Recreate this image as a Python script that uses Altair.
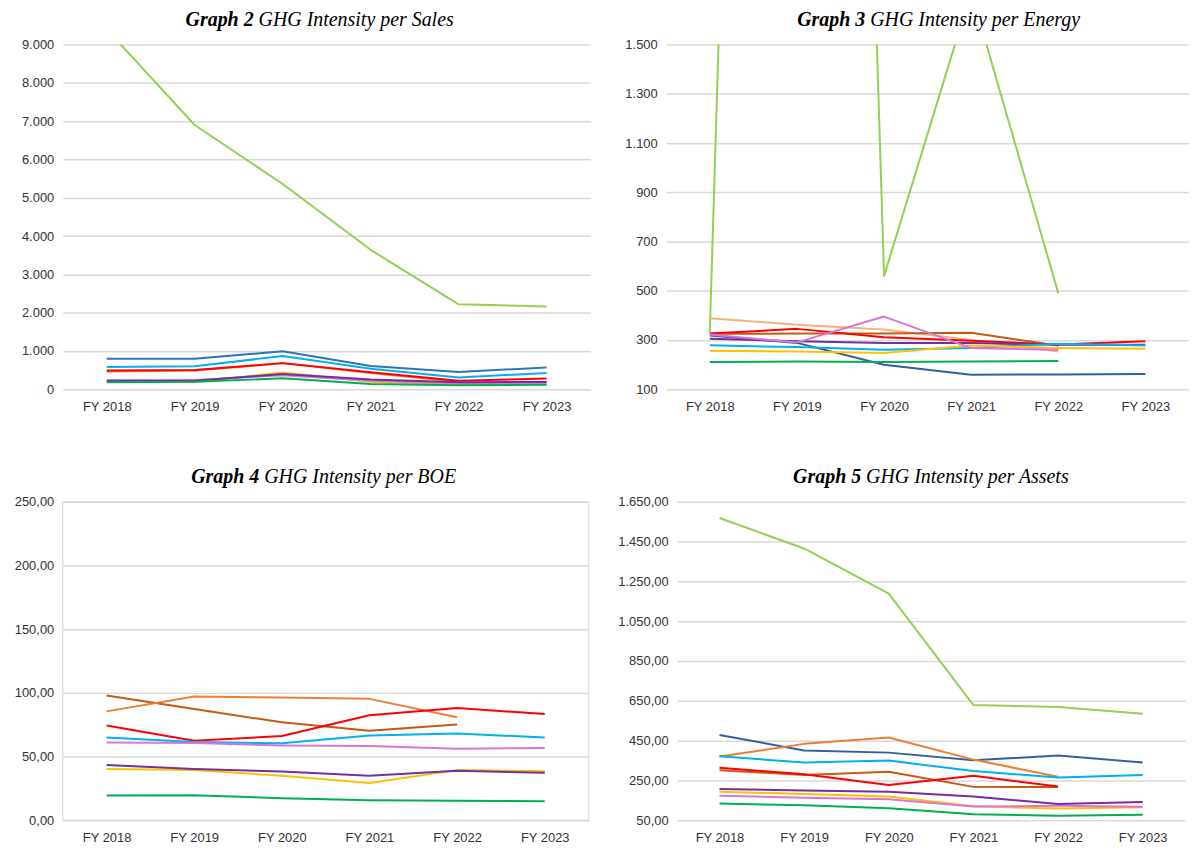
import altair as alt
import pandas as pd

years = ["FY 2018", "FY 2019", "FY 2020", "FY 2021", "FY 2022", "FY 2023"]

# Graph 2 - GHG Intensity per Sales
sales = {
    "light_green": [9400, 6900, 5360, 3640, 2215, 2160],
    "bright_blue": [795, 795, 990, 605, 450, 565],
    "cyan": [580, 600, 865, 535, 305, 425],
    "orange": [460, 485, 680, 425, 195, None],
    "red": [490, 500, 680, 440, 220, 280],
    "yellow": [195, 188, 435, 195, 128, 140],
    "pink": [238, 238, 365, 220, 155, 162],
    "purple": [215, 222, 395, 255, 180, 188],
    "green": [178, 195, 282, 135, 103, 112],
}

# Graph 3 - GHG Intensity per Energy
energy = {
    "light_green": [330, 12000, 560, 1715, 490, None],
    "salmon": [388, 362, 342, 300, 253, None],
    "brown": [325, 326, 326, 329, 277, None],
    "red": [326, 345, 311, 297, 281, 295],
    "dark_blue": [318, 288, 199, 159, 160, 162],
    "purple": [305, 295, 288, 288, 280, 280],
    "cyan": [278, 271, 260, 267, 285, 277],
    "yellow": [256, 253, 247, 277, 267, 264],
    "pink": [322, 290, 395, 267, 260, None],
    "green": [210, 212, 210, 212, 214, None],
}

# Graph 4 - GHG Intensity per BOE
boe = {
    "brown": [97.9, 87.3, 76.9, 70.2, 75.1, None],
    "orange": [85.5, 97.2, 96.4, 95.3, 80.8, None],
    "red": [74.4, 62.4, 66.1, 82.4, 88.1, 83.4],
    "cyan": [65.0, 61.4, 60.4, 66.6, 68.1, 65.0],
    "pink": [61.1, 60.6, 58.8, 58.3, 56.2, 56.7],
    "yellow": [40.2, 39.4, 35.0, 29.3, 39.4, 38.6],
    "purple": [43.5, 40.2, 38.3, 35.0, 38.9, 37.3],
    "green": [19.4, 19.6, 17.4, 15.8, 15.3, 15.0],
}

# Graph 5 - GHG Intensity per Assets
assets = {
    "light_green": [1568, 1415, 1188, 629, 619, 585],
    "dark_blue": [479, 401, 390, 352, 375, 340],
    "orange": [370, 434, 466, 355, 269, None],
    "cyan": [372, 340, 350, 298, 265, 278],
    "brown": [302, 278, 294, 218, 217, None],
    "red": [314, 281, 228, 274, 220, None],
    "yellow": [194, 182, 170, 121, 109, 116],
    "pink": [174, 164, 156, 119, 123, 118],
    "purple": [207, 200, 194, 170, 132, 142],
    "green": [134, 126, 111, 80, 73, 78],
}

series_names = ["light_green", "bright_blue", "dark_blue", "cyan", "red", "orange",
                "brown", "purple", "yellow", "pink", "green", "salmon"]
series_colors = ["#92D050", "#2E75B6", "#31609F", "#00B0F0", "#FF0000", "#ED7D31",
                 "#C55A11", "#7030A0", "#FFC000", "#DA75D8", "#00B050", "#F4B183"]

# approximate Times metrics (Liberation Serif is metric compatible)
TI = {' ': 250, 'A': 611, 'B': 611, 'E': 611, 'G': 722, 'H': 722, 'I': 333, 'O': 722,
      'S': 500, 'a': 500, 'e': 444, 'g': 500, 'h': 500, 'i': 278, 'l': 278, 'n': 500,
      'p': 500, 'r': 389, 's': 389, 't': 278, 'y': 444}
TBI = {'G': 722, 'r': 389, 'a': 500, 'p': 500, 'h': 556, ' ': 250}


def text_w(s, table, size):
    return sum(table.get(c, 500) for c in s) * size / 1000.0


FMT0 = "replace(format(datum.value, ',.0f'), ',', '.')"
FMT2 = "replace(replace(replace(format(datum.value, ',.2f'), ',', '_'), '.', ','), '_', '.')"


def panel(data, num, label, ydom, yvals, fmt, width, height, yext, center, stroke=None):
    rows = []
    for s, vals in data.items():
        for yr, v in zip(years, vals):
            if v is not None:
                rows.append({"series": s, "year": yr, "value": v})
    df = pd.DataFrame(rows)

    lines = alt.Chart(df).mark_line(clip=True, strokeWidth=2, strokeJoin="round").encode(
        x=alt.X("year:O", sort=years, scale=alt.Scale(type="point", padding=0.5),
                axis=alt.Axis(title=None, labelAngle=0, domain=False, ticks=False,
                              grid=False, labelPadding=11)),
        y=alt.Y("value:Q", scale=alt.Scale(domain=ydom, nice=False, zero=False),
                axis=alt.Axis(title=None, domain=False, ticks=False, grid=True,
                              values=yvals, labelExpr=fmt, gridColor="#d9d9d9",
                              gridWidth=1.5, labelPadding=9,
                              minExtent=yext, maxExtent=yext)),
        color=alt.Color("series:N",
                        scale=alt.Scale(domain=series_names, range=series_colors),
                        legend=None),
        order=alt.Order("year:O"),
    )

    fs = 20
    bold = f"Graph {num}"
    rest = label
    w1 = text_w(bold, TBI, fs)
    w2 = text_w(rest, TI, fs)
    gap = 5
    anchor = center - (w1 + gap + w2) / 2 + w1

    t1 = alt.Chart(pd.DataFrame({"t": [bold]})).mark_text(
        align="right", baseline="middle", font="Liberation Serif", fontStyle="italic",
        fontWeight="bold", fontSize=fs, color="#000000"
    ).encode(x=alt.value(anchor), y=alt.value(-25), text="t:N")
    t2 = alt.Chart(pd.DataFrame({"t": [rest]})).mark_text(
        align="left", baseline="middle", font="Liberation Serif", fontStyle="italic",
        fontWeight="normal", fontSize=fs, color="#000000"
    ).encode(x=alt.value(anchor + gap), y=alt.value(-25), text="t:N")

    props = dict(width=width, height=height)
    if stroke:
        props["view"] = alt.ViewBackground(stroke=stroke, strokeWidth=1.5)
    return alt.layer(lines, t1, t2).properties(**props)


g2 = panel(sales, 2, "GHG Intensity per Sales", [0, 9000], list(range(0, 9001, 1000)),
           FMT0, 530, 346, 46, 258)
g3 = panel(energy, 3, "GHG Intensity per Energy", [100, 1500], list(range(100, 1501, 200)),
           FMT0, 525, 346, 52, 274)
g4 = panel(boe, 4, "GHG Intensity per BOE", [0, 250], list(range(0, 251, 50)),
           FMT2, 528, 320, 54, 262, stroke="#e3e3e3")
g5 = panel(assets, 5, "GHG Intensity per Assets", [50, 1650], list(range(50, 1651, 200)),
           FMT2, 510, 320, 62, 255)

chart = alt.vconcat(
    alt.hconcat(g2, g3, spacing=24),
    alt.hconcat(g4, g5, spacing=26),
    spacing=53,
).properties(
    padding={"left": 0, "right": 0, "top": 0, "bottom": 0}
).configure_axis(
    labelFont="Liberation Sans", labelFontSize=13, labelColor="#333333"
).configure_view(stroke=None)

chart.save("out.html", embed_options={"renderer": "svg", "actions": False})
